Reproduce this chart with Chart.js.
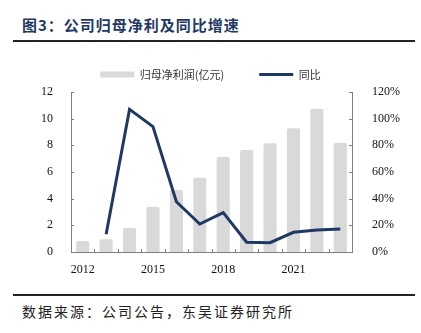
<!DOCTYPE html>
<html>
<head>
<meta charset="utf-8">
<script src="https://cdn.jsdelivr.net/npm/chart.js@4.4.0/dist/chart.umd.min.js"></script>
<style>
    html, body { margin: 0; padding: 0; background: #fff; }
    body { width: 421px; height: 333px; position: relative; overflow: hidden; }
    .title {
        position: absolute; left: 22px; top: 14px;
        font-family: "Noto Sans CJK SC", sans-serif; font-weight: bold;
        font-size: 15px; letter-spacing: 1px; color: #1f3864; line-height: 22px;
    }
    .rule { position: absolute; left: 13px; width: 402px; height: 2px; background: #222; }
    .source {
        position: absolute; left: 22px; top: 302px;
        font-family: "Noto Sans CJK SC", sans-serif; font-size: 14px; letter-spacing: 2px;
        color: #222; line-height: 18px;
    }
    .chart-box { position: absolute; left: 0; top: 34px; width: 421px; height: 246px; }
</style>
</head>
<body>
<div class="title">图3：公司归母净利及同比增速</div>
<div class="rule" style="top:40px"></div>
<div class="chart-box"><canvas id="profitChart"></canvas></div>
<div class="rule" style="top:294px"></div>
<div class="source">数据来源：公司公告，东吴证券研究所</div>

<script>
// Data
const years = ['2012', '2013', '2014', '2015', '2016', '2017', '2018', '2019', '2020', '2021', '2022', '2023'];
const netProfit = [0.82, 0.95, 1.8, 3.4, 4.65, 5.57, 7.12, 7.65, 8.15, 9.28, 10.75, 8.2]; // 亿元
const yoyGrowth = [null, 13.3, 107, 94, 37.7, 21, 29.5, 7.3, 7, 14.8, 16.5, 17.2]; // %
const leftTicks = [0, 2, 4, 6, 8, 10, 12];
const rightTicks = [0, 20, 40, 60, 80, 100, 120];

const navy = '#1f3864';
const axisColor = '#7f7f7f';
const tickFont = { family: 'Liberation Serif', size: 12 };

// small tick marks pointing into the plot
const innerTicks = {
    id: 'innerTicks',
    afterDatasetsDraw(chart) {
        const ctx = chart.ctx;
        const x = chart.scales.x, y = chart.scales.y, y1 = chart.scales.y1;
        const area = chart.chartArea;
        ctx.save();
        ctx.strokeStyle = axisColor;
        ctx.lineWidth = 1;
        ctx.beginPath();
        leftTicks.forEach(v => {
            const py = Math.round(y.getPixelForValue(v)) + 0.5;
            ctx.moveTo(area.left, py);
            ctx.lineTo(area.left + 3, py);
        });
        rightTicks.forEach(v => {
            const py = Math.round(y1.getPixelForValue(v)) + 0.5;
            ctx.moveTo(area.right, py);
            ctx.lineTo(area.right - 3, py);
        });
        for (let i = 1; i < years.length; i++) {
            const px = Math.round((x.getPixelForValue(i - 1) + x.getPixelForValue(i)) / 2) + 0.5;
            ctx.moveTo(px, area.bottom);
            ctx.lineTo(px, area.bottom - 3);
        }
        ctx.stroke();
        ctx.restore();
    }
};

// a bit more room between legend and plot
const legendGap = {
    id: 'legendGap',
    beforeLayout(chart) {
        const legend = chart.legend;
        if (legend && !legend._gapPatched) {
            const fit = legend.fit;
            legend.fit = function() {
                fit.call(this);
                this.height += 2;
            };
            legend._gapPatched = true;
        }
    }
};

document.addEventListener('DOMContentLoaded', function() {
    const ctx = document.getElementById('profitChart');
    new Chart(ctx, {
        type: 'bar',
        data: {
            labels: years,
            datasets: [{
                type: 'bar',
                label: '归母净利润(亿元)',
                data: netProfit,
                backgroundColor: '#d9d9d9',
                borderRadius: 2,
                borderSkipped: 'bottom',
                barPercentage: 0.56,
                categoryPercentage: 1,
                yAxisID: 'y',
                order: 2,
                pointStyle: 'rect'
            }, {
                type: 'line',
                label: '同比',
                data: yoyGrowth,
                borderColor: navy,
                backgroundColor: navy,
                borderWidth: 3,
                pointRadius: 0,
                tension: 0,
                yAxisID: 'y1',
                order: 1,
                pointStyle: 'line'
            }]
        },
        options: {
            responsive: true,
            maintainAspectRatio: false,
            animation: false,
            layout: { padding: 0 },
            plugins: {
                legend: {
                    position: 'top',
                    labels: {
                        usePointStyle: true,
                        pointStyleWidth: 34,
                        boxHeight: 6,
                        padding: 35,
                        color: '#333',
                        font: { family: 'Noto Sans CJK SC', size: 11 },
                        sort: (a, b) => a.datasetIndex - b.datasetIndex
                    }
                },
                tooltip: { enabled: false }
            },
            scales: {
                x: {
                    grid: { display: false },
                    border: { color: axisColor },
                    ticks: {
                        autoSkip: false,
                        maxRotation: 0,
                        padding: 3,
                        color: '#111',
                        font: tickFont,
                        callback: (v, i) => (i % 3 === 0 ? years[i] : '')
                    },
                    afterFit: s => { s.height = 28; }
                },
                y: {
                    position: 'left',
                    min: 0,
                    max: 12,
                    grid: { display: false },
                    border: { color: axisColor },
                    ticks: { stepSize: 2, padding: 10, color: '#111', font: tickFont },
                    afterFit: s => { s.width = 71; }
                },
                y1: {
                    position: 'right',
                    min: 0,
                    max: 120,
                    grid: { display: false },
                    border: { color: axisColor },
                    ticks: {
                        stepSize: 20, padding: 12, color: '#111', font: tickFont,
                        callback: v => v + '%'
                    },
                    afterFit: s => { s.width = 69; }
                }
            }
        },
        plugins: [innerTicks, legendGap]
    });
});
</script>
</body>
</html>
